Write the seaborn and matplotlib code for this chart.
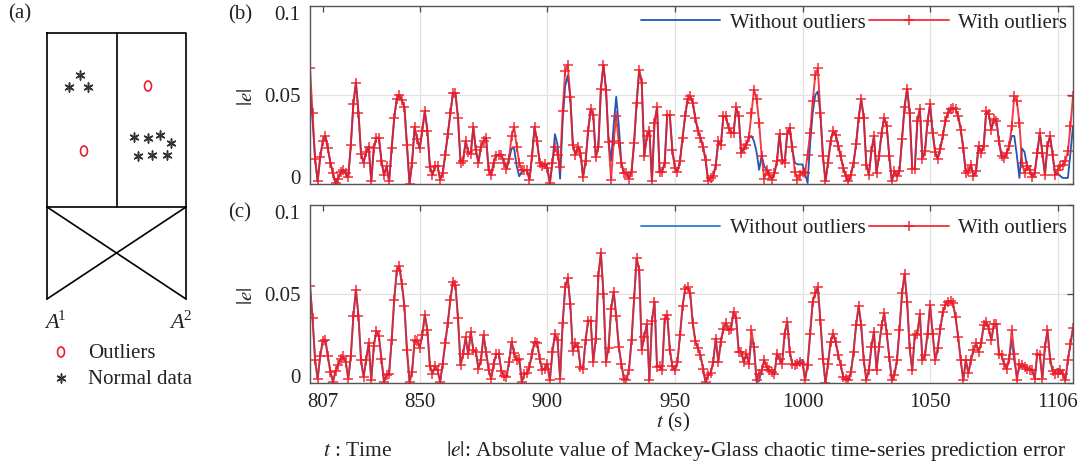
import numpy as np
import pandas as pd
import matplotlib
matplotlib.use("Agg")
import matplotlib.pyplot as plt
from matplotlib.patches import Ellipse
import seaborn as sns

# ---------------- data ----------------
t = np.arange(807, 1107)  # time (s), one sample per second

# (b) |e| with / without outliers
with_b = [
    0.065, 0.040, 0.014, 0.0015, 0.015, 0.024, 0.027, 0.020, 0.012, 0.006,
    0.0005, 0.003, 0.0066, 0.008, 0.006, 0.004, 0.022, 0.045, 0.057, 0.040,
    0.017, 0.012, 0.018, 0.021, 0.0015, 0.020, 0.026, 0.026, 0.013, 0.005,
    0.010, 0.0015, 0.020, 0.037, 0.048, 0.050, 0.047, 0.043, 0.022, 0.0002,
    0.012, 0.032, 0.025, 0.020, 0.030, 0.041, 0.030, 0.0096, 0.005, 0.010,
    0.010, 0.0025, 0.006, 0.0165, 0.028, 0.040, 0.051, 0.051, 0.037, 0.012,
    0.013, 0.024, 0.018, 0.017, 0.032, 0.019, 0.012, 0.021, 0.024, 0.026,
    0.008, 0.005, 0.012, 0.016, 0.0165, 0.0165, 0.012, 0.0085, 0.014, 0.027,
    0.032, 0.021, 0.012, 0.0077, 0.0077, 0.0077, 0.0025, 0.0156, 0.032, 0.024,
    0.012, 0.010, 0.011, 0.009, 0.0005, 0.012, 0.021, 0.0165, 0.0094, 0.041,
    0.0635, 0.067, 0.049, 0.022, 0.0165, 0.021, 0.0175, 0.0038, 0.013, 0.030,
    0.042, 0.039, 0.015, 0.021, 0.0536, 0.067, 0.053, 0.0235, 0.0024, 0.024,
    0.038, 0.023, 0.012, 0.006, 0.006, 0.003, 0.007, 0.023, 0.0457, 0.064,
    0.057, 0.0156, 0.027, 0.030, 0.0015, 0.0344, 0.043, 0.0066, 0.007, 0.012,
    0.039, 0.0385, 0.019, 0.009, 0.007, 0.013, 0.026, 0.038, 0.048, 0.0494,
    0.0457, 0.037, 0.030, 0.026, 0.021, 0.0137, 0.0019, 0.0034, 0.0043, 0.0105,
    0.024, 0.022, 0.038, 0.038, 0.0316, 0.0288, 0.0288, 0.043, 0.038, 0.0175,
    0.020, 0.022, 0.0265, 0.040, 0.053, 0.0476, 0.0344, 0.0156, 0.003, 0.008,
    0.005, 0.0025, 0.006, 0.013, 0.028, 0.0137, 0.012, 0.028, 0.0316, 0.021,
    0.007, 0.0025, 0.005, 0.007, 0.006, 0.0165, 0.0288, 0.0466, 0.061, 0.065,
    0.040, 0.0156, 0.0015, 0.012, 0.024, 0.0297, 0.0278, 0.0216, 0.0156, 0.009,
    0.0043, 0.0015, 0.0053, 0.012, 0.0222, 0.0372, 0.0476, 0.0372, 0.0109, 0.0053,
    0.0184, 0.0269, 0.0062, 0.016, 0.0288, 0.0372, 0.0325, 0.0156, 0.0015, 0.0071,
    0.0043, 0.0071, 0.025, 0.0434, 0.0536, 0.040, 0.0085, 0.0085, 0.0353, 0.0423,
    0.0141, 0.0184, 0.0353, 0.0447, 0.0288, 0.0179, 0.0141, 0.0197, 0.0273, 0.0353,
    0.040, 0.0419, 0.0427, 0.0419, 0.0382, 0.0306, 0.0203, 0.0062, 0.0071, 0.0109,
    0.0043, 0.0071, 0.0212, 0.0175, 0.0212, 0.041, 0.0391, 0.0306, 0.0363, 0.0353,
    0.0241, 0.0156, 0.0147, 0.0175, 0.0212, 0.0325, 0.0494, 0.0466, 0.0344, 0.012,
    0.0062, 0.010, 0.0081, 0.0038, 0.0062, 0.0175, 0.0288, 0.0175, 0.0053, 0.0212,
    0.0269, 0.0165, 0.0053, 0.0081, 0.010, 0.0109, 0.0128, 0.0184, 0.0325, 0.0494,
]
without_b = [
    0.053, 0.036, 0.014, 0.0015, 0.015, 0.024, 0.027, 0.020, 0.012, 0.006,
    0.0005, 0.003, 0.0066, 0.008, 0.006, 0.004, 0.022, 0.045, 0.057, 0.040,
    0.017, 0.012, 0.018, 0.021, 0.0015, 0.020, 0.026, 0.026, 0.013, 0.005,
    0.010, 0.0015, 0.020, 0.037, 0.048, 0.050, 0.047, 0.043, 0.022, 0.0002,
    0.012, 0.032, 0.025, 0.020, 0.030, 0.041, 0.030, 0.0096, 0.005, 0.010,
    0.010, 0.0025, 0.006, 0.0165, 0.028, 0.040, 0.051, 0.051, 0.037, 0.012,
    0.013, 0.024, 0.018, 0.017, 0.032, 0.019, 0.012, 0.021, 0.024, 0.026,
    0.008, 0.005, 0.012, 0.016, 0.0165, 0.0165, 0.012, 0.0085, 0.014, 0.020,
    0.020, 0.010, 0.0043, 0.007, 0.0077, 0.0077, 0.0025, 0.0156, 0.032, 0.024,
    0.012, 0.010, 0.011, 0.009, 0.0005, 0.012, 0.028, 0.022, 0.003, 0.035,
    0.055, 0.061, 0.049, 0.022, 0.0165, 0.021, 0.0175, 0.0038, 0.013, 0.030,
    0.042, 0.039, 0.015, 0.021, 0.0536, 0.067, 0.053, 0.024, 0.013, 0.033,
    0.049, 0.033, 0.012, 0.006, 0.006, 0.003, 0.007, 0.023, 0.0457, 0.064,
    0.057, 0.0156, 0.027, 0.030, 0.0015, 0.0344, 0.043, 0.0066, 0.007, 0.012,
    0.039, 0.0385, 0.019, 0.009, 0.007, 0.013, 0.026, 0.038, 0.048, 0.0494,
    0.0457, 0.037, 0.030, 0.026, 0.021, 0.0137, 0.0019, 0.0034, 0.0043, 0.0105,
    0.024, 0.022, 0.038, 0.038, 0.0316, 0.0288, 0.0288, 0.043, 0.038, 0.0175,
    0.020, 0.022, 0.026, 0.027, 0.024, 0.018, 0.008, 0.016, 0.010, 0.008,
    0.005, 0.0025, 0.006, 0.013, 0.028, 0.0137, 0.012, 0.028, 0.0316, 0.019,
    0.012, 0.011, 0.011, 0.011, 0.006, 0.0005, 0.023, 0.040, 0.050, 0.052,
    0.040, 0.0156, 0.0015, 0.012, 0.024, 0.0297, 0.0278, 0.0216, 0.0156, 0.009,
    0.0043, 0.0015, 0.0053, 0.012, 0.0222, 0.0372, 0.0476, 0.0372, 0.0109, 0.0053,
    0.0184, 0.0269, 0.0062, 0.016, 0.0288, 0.0372, 0.0325, 0.0156, 0.0015, 0.0071,
    0.0043, 0.0071, 0.025, 0.0434, 0.0536, 0.040, 0.0085, 0.0085, 0.0353, 0.0423,
    0.0141, 0.0184, 0.0353, 0.0447, 0.0288, 0.0179, 0.0141, 0.0197, 0.0273, 0.0353,
    0.040, 0.0419, 0.0427, 0.0419, 0.0382, 0.0306, 0.0203, 0.0062, 0.0071, 0.0109,
    0.0043, 0.0071, 0.0212, 0.0175, 0.0212, 0.041, 0.0391, 0.0306, 0.0363, 0.0353,
    0.0241, 0.0156, 0.0147, 0.0175, 0.0212, 0.027, 0.027, 0.016, 0.0034, 0.020,
    0.018, 0.010, 0.0081, 0.0038, 0.0062, 0.0175, 0.0288, 0.0175, 0.0053, 0.0212,
    0.0269, 0.0165, 0.0053, 0.006, 0.0045, 0.0034, 0.0034, 0.0034, 0.0175, 0.0325,
]

# (c) |e| with / without outliers
with_c = [
    0.0547, 0.0363, 0.0128, 0.0024, 0.015, 0.0237, 0.0244, 0.015, 0.0062, 0.0006,
    0.0068, 0.0103, 0.0137, 0.015, 0.0118, 0.0024, 0.015, 0.0376, 0.0523, 0.0376,
    0.0128, 0.0034, 0.0128, 0.0226, 0.0015, 0.0207, 0.0293, 0.0263, 0.0137, 0.0006,
    0.0043, 0.0053, 0.0241, 0.0466, 0.0632, 0.0658, 0.0555, 0.0432, 0.0184, 0.0006,
    0.0062, 0.0241, 0.0237, 0.0199, 0.0269, 0.0382, 0.0297, 0.0094, 0.0053, 0.0094,
    0.0071, 0.0006, 0.0109, 0.0222, 0.0338, 0.0466, 0.057, 0.055, 0.0363, 0.010,
    0.0162, 0.0256, 0.0162, 0.0288, 0.0184, 0.0175, 0.0081, 0.0128, 0.0269, 0.0175,
    0.0075, 0.0024, 0.0109, 0.0162, 0.0165, 0.0068, 0.0038, 0.0034, 0.0118, 0.0231,
    0.0169, 0.0128, 0.0137, 0.0006, 0.0049, 0.0056, 0.009, 0.0165, 0.0231, 0.0226,
    0.0137, 0.0075, 0.0081, 0.0109, 0.0015, 0.0175, 0.0275, 0.024, 0.0024, 0.0335,
    0.0538, 0.0588, 0.0444, 0.018, 0.0222, 0.0203, 0.009, 0.0081, 0.0241, 0.035,
    0.035, 0.0118, 0.025, 0.0602, 0.0733, 0.050, 0.0118, 0.0199, 0.0414, 0.0513,
    0.0376, 0.0203, 0.0109, 0.0024, 0.0019, 0.0075, 0.0241, 0.0476, 0.0701, 0.0635,
    0.0188, 0.026, 0.0331, 0.0015, 0.035, 0.0457, 0.009, 0.0094, 0.0075, 0.0357,
    0.0382, 0.0188, 0.0094, 0.0071, 0.0118, 0.0269, 0.0432, 0.0526, 0.0538, 0.0504,
    0.0335, 0.0237, 0.0194, 0.0156, 0.0081, 0.0006, 0.0043, 0.0056, 0.0118, 0.025,
    0.0118, 0.0231, 0.0306, 0.0338, 0.0297, 0.0306, 0.040, 0.0363, 0.0175, 0.0175,
    0.0118, 0.0165, 0.0109, 0.0297, 0.0203, 0.0015, 0.0053, 0.0071, 0.0128, 0.009,
    0.0071, 0.0062, 0.0049, 0.0165, 0.0137, 0.0109, 0.0278, 0.0344, 0.0175, 0.0109,
    0.010, 0.0109, 0.0118, 0.0109, 0.0019, 0.010, 0.0278, 0.0457, 0.0504, 0.0538,
    0.0353, 0.0137, 0.0, 0.0109, 0.0231, 0.0278, 0.0231, 0.0156, 0.010, 0.0034,
    0.0024, 0.0015, 0.0062, 0.0175, 0.0325, 0.0432, 0.0325, 0.0128, 0.0019, 0.0071,
    0.0203, 0.0288, 0.0071, 0.0203, 0.0325, 0.0391, 0.0278, 0.0147, 0.0015, 0.0043,
    0.0128, 0.0297, 0.0504, 0.0613, 0.0457, 0.0194, 0.0071, 0.0269, 0.0278, 0.0387,
    0.0128, 0.0156, 0.0278, 0.0438, 0.0278, 0.0128, 0.0194, 0.0306, 0.040, 0.0438,
    0.0457, 0.0461, 0.0447, 0.0368, 0.0259, 0.0128, 0.0015, 0.0128, 0.0056, 0.0128,
    0.0184, 0.0222, 0.0175, 0.0222, 0.0325, 0.0344, 0.0306, 0.0241, 0.0331, 0.0331,
    0.0165, 0.0156, 0.0109, 0.0081, 0.0137, 0.0297, 0.0165, 0.0015, 0.0109, 0.010,
    0.009, 0.0081, 0.0071, 0.0075, 0.0024, 0.0165, 0.0156, 0.0024, 0.0203, 0.0297,
    0.0137, 0.0068, 0.0053, 0.0056, 0.0071, 0.0053, 0.0015, 0.0128, 0.022, 0.031,
]
without_c = [
    0.0547, 0.0363, 0.0128, 0.0024, 0.015, 0.0237, 0.0244, 0.015, 0.0062, 0.0006,
    0.0068, 0.0103, 0.0137, 0.015, 0.0118, 0.0024, 0.015, 0.0376, 0.0523, 0.0376,
    0.0128, 0.0034, 0.0128, 0.0226, 0.0015, 0.0207, 0.0293, 0.0263, 0.0137, 0.0006,
    0.0043, 0.0053, 0.0241, 0.0466, 0.0632, 0.0658, 0.0555, 0.0432, 0.0184, 0.0006,
    0.0062, 0.0241, 0.0237, 0.0199, 0.0269, 0.0382, 0.0297, 0.0094, 0.0053, 0.0094,
    0.0071, 0.0006, 0.0109, 0.0222, 0.0338, 0.0466, 0.057, 0.055, 0.0363, 0.010,
    0.0162, 0.0256, 0.0162, 0.0288, 0.0184, 0.0175, 0.0081, 0.0128, 0.0269, 0.0175,
    0.0075, 0.0024, 0.0109, 0.0162, 0.0165, 0.0068, 0.0038, 0.0034, 0.0118, 0.0231,
    0.0169, 0.0128, 0.0137, 0.0006, 0.0049, 0.0056, 0.009, 0.0165, 0.0231, 0.0226,
    0.0137, 0.0075, 0.0081, 0.0109, 0.0015, 0.0175, 0.0275, 0.024, 0.0024, 0.0335,
    0.0538, 0.0588, 0.0444, 0.018, 0.0222, 0.0203, 0.009, 0.0081, 0.0241, 0.035,
    0.035, 0.0118, 0.025, 0.0602, 0.0733, 0.050, 0.0118, 0.0199, 0.0414, 0.0513,
    0.0376, 0.0203, 0.0109, 0.0024, 0.0019, 0.0075, 0.0241, 0.0476, 0.0701, 0.0635,
    0.0188, 0.026, 0.0331, 0.0015, 0.035, 0.0457, 0.009, 0.0094, 0.0075, 0.0357,
    0.0382, 0.0188, 0.0094, 0.0071, 0.0118, 0.0269, 0.0432, 0.0526, 0.0538, 0.0504,
    0.0335, 0.0237, 0.0194, 0.0156, 0.0081, 0.0006, 0.0043, 0.0056, 0.0118, 0.025,
    0.0118, 0.0231, 0.0306, 0.0338, 0.0297, 0.0306, 0.040, 0.0363, 0.0175, 0.0175,
    0.0118, 0.0165, 0.0109, 0.024, 0.0203, 0.0005, 0.001, 0.0071, 0.0128, 0.009,
    0.0071, 0.0062, 0.0049, 0.0165, 0.0137, 0.0109, 0.0278, 0.0344, 0.0175, 0.0109,
    0.010, 0.0109, 0.0128, 0.013, 0.0019, 0.010, 0.0278, 0.0457, 0.0504, 0.0538,
    0.0353, 0.0137, 0.0, 0.0109, 0.0231, 0.0278, 0.0231, 0.0156, 0.010, 0.0034,
    0.0024, 0.0015, 0.0062, 0.0175, 0.0325, 0.0432, 0.0325, 0.0128, 0.0019, 0.0071,
    0.0203, 0.0288, 0.0071, 0.0203, 0.0325, 0.0391, 0.0278, 0.0147, 0.0015, 0.0043,
    0.0128, 0.0297, 0.0504, 0.0613, 0.0457, 0.0194, 0.0071, 0.0269, 0.0278, 0.0387,
    0.0128, 0.0156, 0.0278, 0.0438, 0.0278, 0.0128, 0.0194, 0.0306, 0.040, 0.0438,
    0.0457, 0.0461, 0.0447, 0.0368, 0.0259, 0.0128, 0.0015, 0.0128, 0.0056, 0.0128,
    0.0184, 0.0222, 0.0175, 0.0222, 0.0325, 0.0344, 0.0306, 0.0241, 0.0331, 0.0331,
    0.0165, 0.0156, 0.0109, 0.0081, 0.0137, 0.024, 0.012, 0.0043, 0.008, 0.010,
    0.009, 0.0081, 0.0071, 0.0075, 0.0024, 0.0165, 0.0156, 0.0024, 0.0203, 0.0297,
    0.0137, 0.0068, 0.007, 0.008, 0.0071, 0.0053, 0.0015, 0.0128, 0.022, 0.031,
]

xtick_pos = [812, 850, 900, 950, 1000, 1050, 1100]
xtick_lab = ['807', '850', '900', '950', '1000', '1050', '1106']
ytick_pos = [0, 0.05, 0.1]
ytick_lab = ['0', '0.05', '0.1']

RED = '#f01c26'
BLUE_B = '#2456b4'
BLUE_C = '#2a80d0'
INK = '#222222'

# ---------------- style ----------------
sns.set_theme(style='white')
plt.rcParams['font.family'] = ['Liberation Serif', 'DejaVu Serif']
plt.rcParams['mathtext.fontset'] = 'stix'
plt.rcParams['text.color'] = INK

W, H = 1082, 469
fig = plt.figure(figsize=(W / 100, H / 100), dpi=100)


def fx(px):
    return px / W


def fy(py):
    return 1 - py / H


def draw_panel(ax, with_vals, without_vals, blue, legend_y, show_x):
    df = pd.DataFrame({'t': t, 'without': without_vals, 'with': with_vals})
    sns.lineplot(data=df, x='t', y='without', ax=ax, color=blue, lw=1.3,
                 label='Without outliers')
    sns.lineplot(data=df, x='t', y='with', ax=ax, color=RED, lw=1.4, alpha=0.85,
                 marker='+', markersize=7, markeredgewidth=1.2,
                 markeredgecolor=RED, markerfacecolor=RED,
                 label='With outliers')
    ax.set_xlim(807, 1106)
    ax.set_ylim(0, 0.1)
    ax.set_xlabel('')
    ax.set_ylabel('')
    ax.set_xticks(xtick_pos)
    ax.set_xticklabels(xtick_lab)
    ax.set_yticks(ytick_pos)
    ax.set_yticklabels(ytick_lab)
    ax.grid(True, color='#e2e2e2', lw=0.9)
    first = ax.xaxis.get_major_ticks()[0]
    first.tick1line.set_visible(False)
    first.tick2line.set_visible(False)
    first.gridline.set_visible(False)
    ax.tick_params(direction='in', length=4, width=0.9, top=True, right=True,
                   labelsize=15, colors='#444444', labelcolor=INK, pad=7,
                   labelbottom=show_x)
    ylabs = ax.get_yticklabels()
    ylabs[0].set_verticalalignment('baseline')
    ylabs[-1].set_verticalalignment('top')
    for s in ax.spines.values():
        s.set_color('#555555')
        s.set_linewidth(1.0)
    ax.legend(loc='center right', bbox_to_anchor=(1 - 6 / 763, legend_y),
              frameon=False, ncol=2, fontsize=15, handlelength=3.8,
              handletextpad=0.45, columnspacing=0.2, borderpad=0,
              borderaxespad=0, numpoints=1)


ax_b = fig.add_axes([fx(310), fy(184), fx(763), 178 / H])
draw_panel(ax_b, with_b, without_b, BLUE_B, (184 - 23) / 178, False)
ax_c = fig.add_axes([fx(310), fy(383), fx(763), 178 / H])
draw_panel(ax_c, with_c, without_c, BLUE_C, (383 - 228) / 178, True)

# ---------------- panel (a) sketch, drawn in pixel units ----------------
ax_a = fig.add_axes([0, 0, fx(230), 1])
ax_a.set_xlim(0, 230)
ax_a.set_ylim(H, 0)
ax_a.axis('off')
box_x = [47, 186, 186, 47, 47]
box_y = [33, 33, 207, 207, 33]
ax_a.plot(box_x, box_y, color='black', lw=1.2)
ax_a.plot([117, 117], [33, 207], color='black', lw=1.2)
# lower part: two legs and the crossing braces
ax_a.plot([47, 47], [207, 299], color='black', lw=1.2)
ax_a.plot([186, 186], [207, 299], color='black', lw=1.2)
ax_a.plot([47, 186], [207, 299], color='black', lw=1.2)
ax_a.plot([186, 47], [207, 299], color='black', lw=1.2)

star_x = [69, 80, 88, 134, 148, 160, 171, 138, 152, 167]
star_y = [87, 75, 87, 137, 138, 135, 143, 156, 155, 155]
out_x = [84, 148]
out_y = [151, 86]
ax_a.scatter(star_x, star_y, marker=(6, 2, 0), s=42, color='#333333', linewidths=1.1)
for x, y in zip(out_x, out_y):
    ax_a.add_patch(Ellipse((x, y), 7, 10, fill=False, edgecolor='#e8202e', lw=1.2))

# A^1, A^2 labels: italic A with an upright superscript digit
for ax_x, sup in [(52, '1'), (177, '2')]:
    ax_a.text(ax_x, 323, 'A', fontsize=16, style='italic', ha='center', va='center')
    ax_a.text(ax_x + 6, 316, sup, fontsize=11, ha='left', va='center')
ax_a.add_patch(Ellipse((61, 352), 7, 10, fill=False, edgecolor='#e8202e', lw=1.2))
ax_a.scatter([61], [378], marker=(6, 2, 0), s=42, color='#333333', linewidths=1.1)
ax_a.text(88, 353, 'Outliers', fontsize=15, ha='left', va='center')
ax_a.text(88, 379, 'Normal data', fontsize=15, ha='left', va='center')

# ---------------- text around the panels ----------------
fig.text(fx(20), fy(14), '(a)', fontsize=15, ha='center', va='center')
fig.text(fx(240), fy(15), '(b)', fontsize=15, ha='center', va='center')
fig.text(fx(240), fy(213), '(c)', fontsize=15, ha='center', va='center')
fig.text(fx(247), fy(97), '$|e|$', fontsize=15, rotation=90, ha='center', va='center')
fig.text(fx(247), fy(296), '$|e|$', fontsize=15, rotation=90, ha='center', va='center')
fig.text(fx(673), fy(422), '$t$ (s)', fontsize=15, ha='center', va='center')
fig.text(fx(323), fy(451), '$t$ : Time', fontsize=15.5, ha='left', va='center')
fig.text(fx(446), fy(451),
         '$|e|$: Absolute value of Mackey-Glass chaotic time-series prediction error',
         fontsize=15.5, ha='left', va='center')

fig.savefig('out.png', dpi=100)
